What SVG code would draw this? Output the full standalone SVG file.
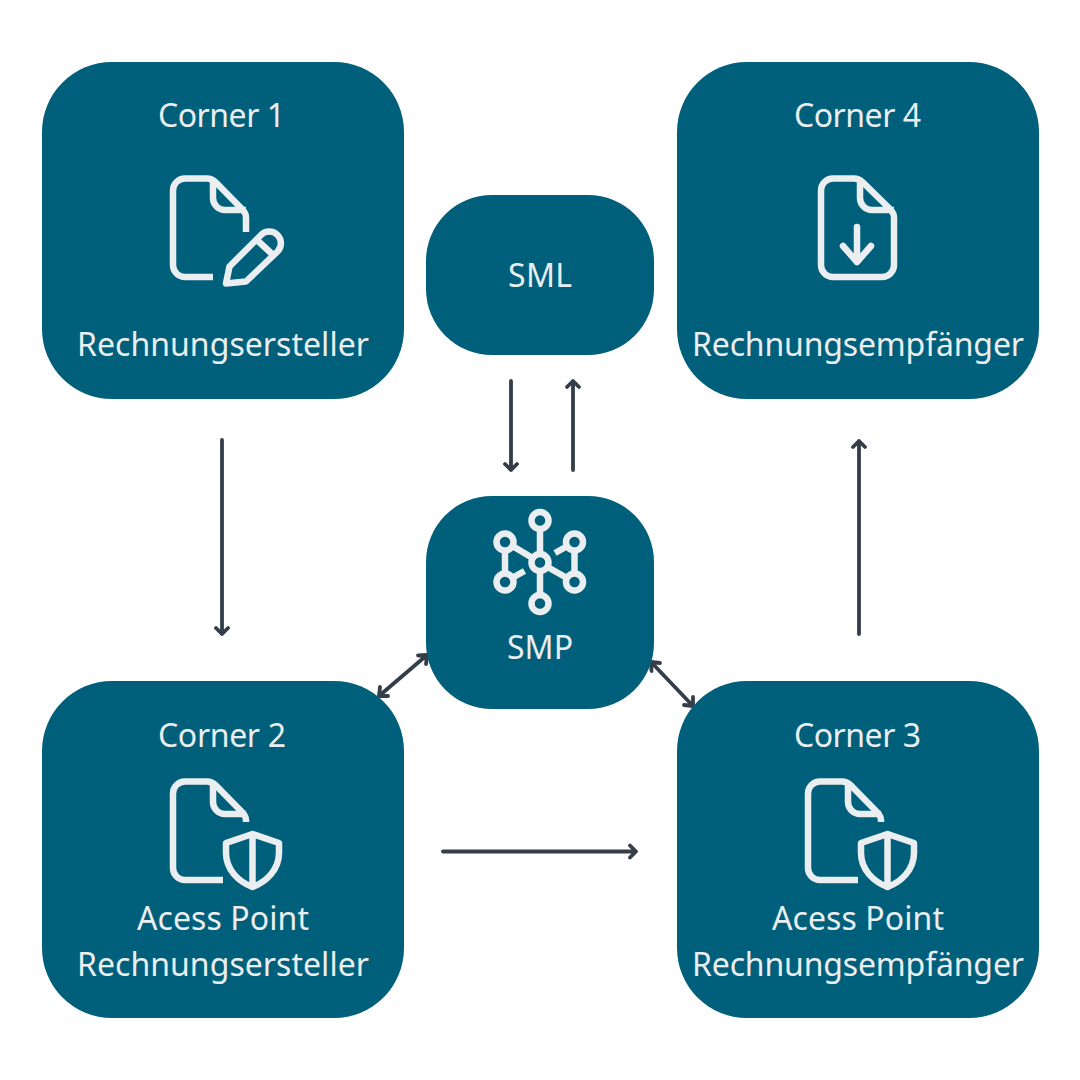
<svg xmlns="http://www.w3.org/2000/svg" xmlns:xlink="http://www.w3.org/1999/xlink" width="1080" height="1080" viewBox="0 0 1080 1080">
<style>
.box{fill:#005f7a}
.ic{fill:none;stroke:#ebeef0;stroke-width:6.500;stroke-linecap:round;stroke-linejoin:round}
.b{stroke-linecap:butt}
.lb{fill:#ebeef0;font-family:"Noto Sans","Open Sans",sans-serif;font-size:32px;text-anchor:middle}
.ar{fill:none;stroke:#353d4a;stroke-width:3.800;stroke-linecap:round;stroke-linejoin:round}
</style>
<defs>
<g id="shielddoc">
<path class="ic b" d="M223 880H185a12 12 0 0 1-12-12V793.500a12 12 0 0 1 12-12H207q5 0 9 4L241 811q5 5 5 9V822"/>
<path class="ic b" d="M213 782V802a12 12 0 0 0 12 12H246"/>
<path class="ic" d="M252.500 834L279 843V853C279 870 266 882 252.500 887C239 882 226 870 226 853V843ZM252.500 834V887"/>
</g>
</defs>
<rect width="1080" height="1080" fill="#fff"/>
<g id="connectors">
<path class="ar" d="M222 440V634M216 628L222 634L228 628"/>
<path class="ar" d="M443 851.500H636M630 845.500L636 851.500L630 857.500"/>
<path class="ar" d="M859 634V441M853 447L859 441L865 447"/>
<path class="ar" d="M511 381V470M505 464L511 470L517 464"/>
<path class="ar" d="M573 470V381M567 387L573 381L579 387"/>
<path class="ar" d="M379 696L427 655M418 655.500L427 655L426 664M380 687L379 696L388 696"/>
<path class="ar" d="M651 662L693 706M651.500 671L651 662L660 663M684 705L693 706L693 697"/>
</g>
<g id="corner1">
<rect class="box" x="42" y="62" width="362" height="337" rx="70"/>
<text class="lb" x="221.500" y="127" textLength="127">Corner 1</text>
<path class="ic b" d="M213 277H185a12 12 0 0 1-12-12V190.500a12 12 0 0 1 12-12H207q5 0 9 4L241 208q5 5 5 9V232"/>
<path class="ic b" d="M213 179V198a12 12 0 0 0 12 12H246"/>
<path class="ic" d="M226 283.500L229.500 266.500L261 235a11.500 11.500 0 0 1 16.500 16.500L246 281.500ZM257 240L272 254"/>
<text class="lb" x="223" y="356" textLength="292">Rechnungsersteller</text>
</g>
<g id="corner4">
<rect class="box" x="677" y="62" width="362" height="337" rx="70"/>
<text class="lb" x="857.500" y="127" textLength="127">Corner 4</text>
<path class="ic" d="M833 178.500H854q5 0 9 4L889 208q5 5 5 9V265a12 12 0 0 1-12 12H833a12 12 0 0 1-12-12V190.500a12 12 0 0 1 12-12Z"/>
<path class="ic b" d="M860 179V198a12 12 0 0 0 12 12H894"/>
<path class="ic" d="M857 227V261M843 246L857 262L871 246"/>
<text class="lb" x="858" y="356" textLength="332">Rechnungsempfänger</text>
</g>
<g id="sml">
<rect class="box" x="426" y="195" width="228" height="160" rx="66"/>
<text class="lb" x="540" y="287" textLength="64">SML</text>
</g>
<g id="smp">
<rect class="box" x="426" y="496" width="228" height="213" rx="66"/>
<g class="ic">
<circle cx="540" cy="562.500" r="8.500"/>
<circle cx="540" cy="520.500" r="8.500"/>
<circle cx="540" cy="603.500" r="8.500"/>
<circle cx="505" cy="542" r="8.500"/>
<circle cx="574.500" cy="542" r="8.500"/>
<circle cx="505" cy="582" r="8.500"/>
<circle cx="574.500" cy="582" r="8.500"/>
<path class="b" d="M540 529V554M540 571V595M512.500 546L532.500 558M547.500 567L567 578M505 550.500V573.500M574.500 550.500V573.500M512 578L524.500 571M567.500 546L555 553"/>
</g>
<text class="lb" x="540" y="659" textLength="66">SMP</text>
</g>
<g id="corner2">
<rect class="box" x="42" y="681" width="362" height="337" rx="70"/>
<text class="lb" x="222" y="747" textLength="128">Corner 2</text>
<use xlink:href="#shielddoc" href="#shielddoc"/>
<text class="lb" x="223" y="930" textLength="172">Acess Point</text>
<text class="lb" x="223" y="976" textLength="292">Rechnungsersteller</text>
</g>
<g id="corner3">
<rect class="box" x="677" y="681" width="362" height="337" rx="70"/>
<text class="lb" x="857.500" y="747" textLength="127">Corner 3</text>
<use xlink:href="#shielddoc" href="#shielddoc" x="635"/>
<text class="lb" x="858" y="930" textLength="172">Acess Point</text>
<text class="lb" x="858" y="976" textLength="332">Rechnungsempfänger</text>
</g>
</svg>
